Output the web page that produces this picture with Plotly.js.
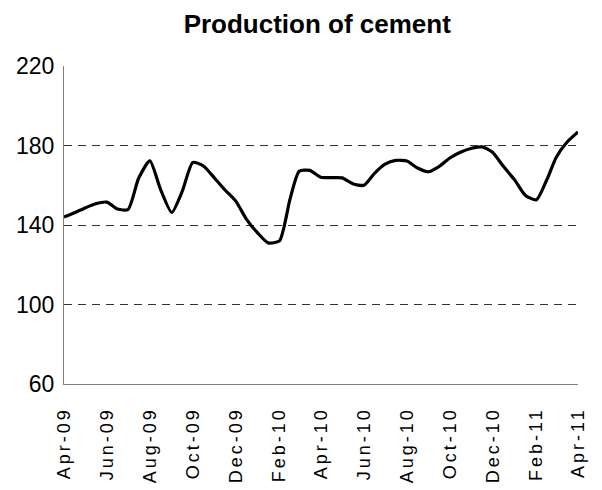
<!DOCTYPE html>
<html>
<head>
<meta charset="utf-8">
<script src="https://cdn.plot.ly/plotly-3.0.1.min.js"></script>
<style>
html,body{margin:0;padding:0;background:#fff;}
#chart{width:602px;height:490px;}
.xtick text{letter-spacing:3px;}
</style>
</head>
<body>
<div id="chart"></div>
<script>
// Semi-monthly observations, Apr-09 to Apr-11
const dates = [
  "2009-04-01","2009-04-16","2009-05-01","2009-05-16","2009-06-01","2009-06-16",
  "2009-07-01","2009-07-16","2009-08-01","2009-08-16","2009-09-01","2009-09-16",
  "2009-10-01","2009-10-16","2009-11-01","2009-11-16","2009-12-01","2009-12-16",
  "2010-01-01","2010-01-16","2010-02-01","2010-02-16","2010-03-01","2010-03-16",
  "2010-04-01","2010-04-16","2010-05-01","2010-05-16","2010-06-01","2010-06-16",
  "2010-07-01","2010-07-16","2010-08-01","2010-08-16","2010-09-01","2010-09-16",
  "2010-10-01","2010-10-16","2010-11-01","2010-11-16","2010-12-01","2010-12-16",
  "2011-01-01","2011-01-16","2011-02-01","2011-02-16","2011-03-01","2011-03-16",
  "2011-04-01"
];
const production = [
  144.0,146.2,148.6,150.7,151.5,148.0,
  147.8,163.5,172.3,158.0,146.3,157.0,
  171.5,169.7,163.5,157.5,152.0,143.0,
  136.0,131.0,132.0,153.0,167.0,167.5,
  164.0,163.8,163.7,160.8,160.0,166.0,
  170.6,172.5,172.2,168.7,166.8,169.5,
  173.7,176.6,178.6,179.3,176.5,169.5,
  162.7,155.0,152.7,163.0,174.0,181.5,
  186.8
];
const tickDates = ["2009-04-01","2009-06-01","2009-08-01","2009-10-01","2009-12-01","2010-02-01",
  "2010-04-01","2010-06-01","2010-08-01","2010-10-01","2010-12-01","2011-02-01","2011-04-01"];
const tickLabels = ["Apr-09","Jun-09","Aug-09","Oct-09","Dec-09","Feb-10","Apr-10","Jun-10",
  "Aug-10","Oct-10","Dec-10","Feb-11","Apr-11"];
const yTicks = [60,100,140,180,220];
const chartTitle = "Production of cement";

const trace = {
  x: dates, y: production, type: "scatter", mode: "lines",
  line: {color: "#000", width: 3.2, shape: "spline", smoothing: 0.6},
  hoverinfo: "x+y"
};

const layout = {
  width: 602, height: 490,
  margin: {l: 64, r: 24, t: 66, b: 106},
  paper_bgcolor: "#fff", plot_bgcolor: "#fff",
  showlegend: false,
  title: {text: "<b>" + chartTitle + "</b>", x: 0.527, xanchor: "center", y: 0.952, yanchor: "middle",
    font: {family: "Liberation Sans, Arial, sans-serif", size: 26, color: "#000"}},
  xaxis: {
    type: "date",
    range: ["2009-04-01", "2011-04-01"],
    tickvals: tickDates, ticktext: tickLabels,
    tickangle: -90,
    showgrid: false, zeroline: false,
    showline: true, linecolor: "#808080", linewidth: 1,
    ticks: "", ticklen: 0,
    ticklabelstandoff: 15,
    tickfont: {family: "Liberation Sans, Arial, sans-serif", size: 18, color: "#000"},
    automargin: false
  },
  yaxis: {
    range: [60, 220],
    tickvals: yTicks,
    showgrid: true, gridcolor: "#333", griddash: "8px,6px", gridwidth: 1,
    zeroline: false,
    showline: true, linecolor: "#808080", linewidth: 1,
    ticks: "", ticklen: 0,
    ticklabelstandoff: 4,
    tickfont: {family: "Liberation Sans, Arial, sans-serif", size: 23, color: "#000"},
    automargin: false
  }
};

Plotly.newPlot("chart", [trace], layout, {displayModeBar: false, staticPlot: true});
</script>
</body>
</html>
